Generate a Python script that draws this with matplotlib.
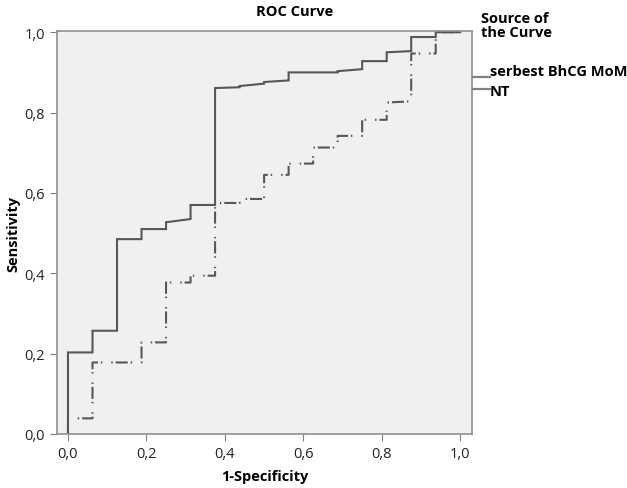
import matplotlib.pyplot as plt
from matplotlib.lines import Line2D

plt.rcParams['font.family'] = ['Open Sans', 'DejaVu Sans']

# ROC points (1-specificity, sensitivity)
fpr_a = [0, 0, 0.0625, 0.0625, 0.125, 0.125, 0.1875, 0.1875, 0.25, 0.25, 0.3125,
         0.3125, 0.375, 0.375, 0.4375, 0.4375, 0.5, 0.5, 0.5625, 0.5625, 0.6875,
         0.6875, 0.75, 0.75, 0.8125, 0.8125, 0.875, 0.875, 0.9375, 0.9375, 1.0]
tpr_a = [0, 0.203, 0.203, 0.257, 0.257, 0.485, 0.485, 0.51, 0.51, 0.527, 0.535,
         0.57, 0.57, 0.861, 0.863, 0.866, 0.872, 0.876, 0.88, 0.9, 0.9,
         0.903, 0.908, 0.928, 0.928, 0.95, 0.953, 0.988, 0.988, 1.0, 1.0]

fpr_b = [0, 0, 0.0625, 0.0625, 0.1875, 0.1875, 0.25, 0.25, 0.3125, 0.3125, 0.375,
         0.375, 0.4375, 0.4375, 0.5, 0.5, 0.5625, 0.5625, 0.625, 0.625, 0.6875,
         0.6875, 0.75, 0.75, 0.8125, 0.8125, 0.875, 0.875, 0.9375, 0.9375, 1.0]
tpr_b = [0, 0.039, 0.039, 0.178, 0.178, 0.228, 0.228, 0.377, 0.377, 0.394, 0.394,
         0.575, 0.575, 0.585, 0.585, 0.645, 0.645, 0.673, 0.673, 0.713, 0.713,
         0.742, 0.742, 0.782, 0.782, 0.825, 0.828, 0.947, 0.947, 1.0, 1.0]

ticks = [0, 0.2, 0.4, 0.6, 0.8, 1.0]
tick_labels = ['0,0', '0,2', '0,4', '0,6', '0,8', '1,0']
names = ['serbest BhCG MoM', 'NT']

W, H = 627, 489
fig = plt.figure(figsize=(W / 100, H / 100), dpi=100)
ax = fig.add_axes([57 / W, 1 - 435 / H, (472 - 57) / W, (435 - 32) / H])
ax.set_facecolor('#f0f0f0')

line_col = '#575757'
ax.plot(fpr_a, tpr_a, color=line_col, lw=1.5, solid_joinstyle='miter')
ax.plot(fpr_b, tpr_b, color=line_col, lw=1.5,
        dashes=(5.8, 1.4, 0.7, 4.3, 0.7, 1.4))

ax.set_xlim(-0.028, 1.03)
ax.set_ylim(0, 1.003)
ax.set_xticks(ticks)
ax.set_xticklabels(tick_labels)
ax.set_yticks(ticks)
ax.set_yticklabels(tick_labels)
ax.tick_params(direction='out', length=5, color='#808080', labelsize=10.5,
               labelcolor='#222222')
for s in ax.spines.values():
    s.set_color('#909090')
    s.set_linewidth(1.2)

ax.set_xlabel('1-Specificity', fontsize=10.5, fontweight='bold', labelpad=6)
ax.set_ylabel('Sensitivity', fontsize=10.5, fontweight='bold', labelpad=3)
fig.text(295 / W, 1 - 12 / H, 'ROC Curve', ha='center', va='center',
         fontsize=10.5, fontweight='bold')

# legend drawn by hand
fig.text(481 / W, 1 - 26 / H, 'Source of\nthe Curve', ha='left', va='center',
         fontsize=10.5, fontweight='bold', linespacing=1.0)
for name, y_txt, y_ln in zip(names, [72, 92], [78, 90]):
    fig.add_artist(Line2D([473 / W, 490 / W], [1 - y_ln / H, 1 - y_ln / H],
                          color='#808080', lw=1.6))
    fig.text(490 / W, 1 - y_txt / H, name, ha='left', va='center',
             fontsize=10.5, fontweight='bold')

fig.savefig('out.png', dpi=100)
